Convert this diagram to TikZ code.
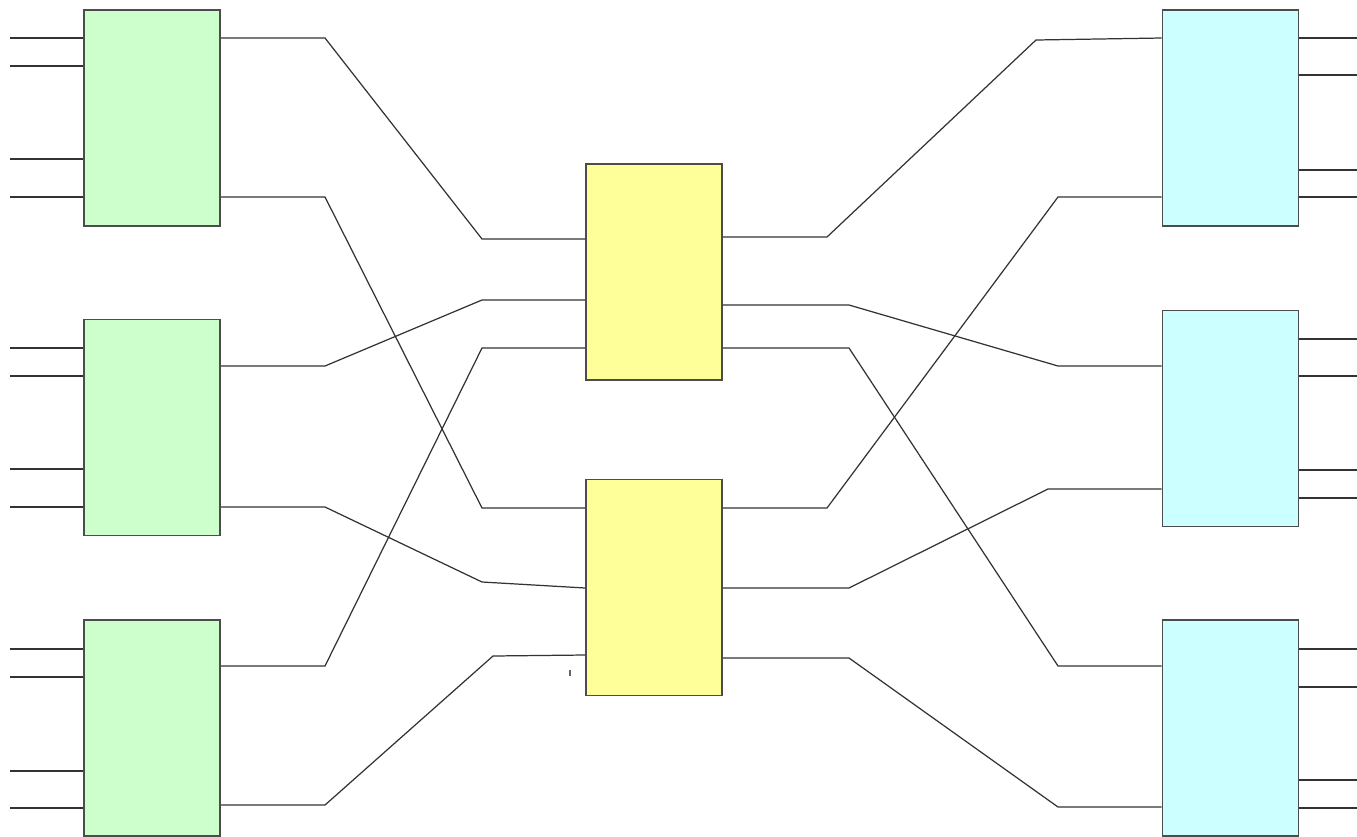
\documentclass[tikz,border=0pt]{standalone}
\definecolor{stageA}{HTML}{CCFFCC}
\definecolor{stageB}{HTML}{FFFF99}
\definecolor{stageC}{HTML}{CCFFFF}
\begin{document}
\begin{tikzpicture}[x=0.02cm,y=-0.02cm,
  box/.style={draw=black!70,line width=0.9pt,inner sep=0pt,
    minimum width=2.72cm,minimum height=4.32cm},
  gbox/.style={box,fill=stageA},
  ybox/.style={box,fill=stageB},
  cbox/.style={box,fill=stageC},
  wire/.style={draw=black!80,line width=0.7pt}]
\useasboundingbox (0,0) rectangle (1357,836);

% switch blocks
\node[gbox] (g1) at (152,118) {};
\node[gbox] (g2) at (152,427.5) {};
\node[gbox] (g3) at (152,728) {};
\node[ybox] (y1) at (654,272) {};
\node[ybox] (y2) at (654,587.5) {};
\node[cbox] (c1) at (1230.5,118) {};
\node[cbox] (c2) at (1230.5,418.5) {};
\node[cbox] (c3) at (1230.5,728) {};

% input stubs
\foreach \y in {38,66,159,197}   {\draw[wire] (10,\y) coordinate (a\y) -- (g1.west |- a\y);}
\foreach \y in {348,376,469,507} {\draw[wire] (10,\y) coordinate (a\y) -- (g2.west |- a\y);}
\foreach \y in {649,677,771,808} {\draw[wire] (10,\y) coordinate (a\y) -- (g3.west |- a\y);}

% output stubs
\foreach \y in {38,75,170,197}   {\draw[wire] (c1.east |- 0,\y) -- (1357,\y) coordinate (b\y);}
\foreach \y in {339,376,470,498} {\draw[wire] (c2.east |- 0,\y) -- (1357,\y) coordinate (b\y);}
\foreach \y in {649,687,780,808} {\draw[wire] (c3.east |- 0,\y) -- (1357,\y) coordinate (b\y);}

% first stage to middle stage
\draw[wire] (g1.east |- 0,38)  -- (325,38)  -- (482,239) -- (y1.west |- 0,239);
\draw[wire] (g2.east |- 0,366) -- (325,366) -- (482,300) -- (y1.west |- 0,300);
\draw[wire] (g3.east |- 0,666) -- (325,666) -- (482,348) -- (y1.west |- 0,348);
\draw[wire] (g1.east |- 0,197) -- (325,197) -- (482,508) -- (y2.west |- 0,508);
\draw[wire] (g2.east |- 0,507) -- (325,507) -- (482,582) -- (y2.west |- 0,588);
\draw[wire] (g3.east |- 0,805) -- (325,805) -- (493,656) -- (y2.west |- 0,655);

% middle stage to last stage
\draw[wire] (y1.east |- 0,237) -- (827,237) -- (1036,40)  -- (c1.west |- 0,38);
\draw[wire] (y1.east |- 0,305) -- (849,305) -- (1058,366) -- (c2.west |- 0,366);
\draw[wire] (y1.east |- 0,348) -- (849,348) -- (1058,666) -- (c3.west |- 0,666);
\draw[wire] (y2.east |- 0,508) -- (827,508) -- (1058,197) -- (c1.west |- 0,197);
\draw[wire] (y2.east |- 0,588) -- (849,588) -- (1048,489) -- (c2.west |- 0,489);
\draw[wire] (y2.east |- 0,658) -- (849,658) -- (1058,807) -- (c3.west |- 0,807);

% small stray mark
\draw[black!60,line width=0.8pt] (570,670) -- (570,676);
\end{tikzpicture}
\end{document}
